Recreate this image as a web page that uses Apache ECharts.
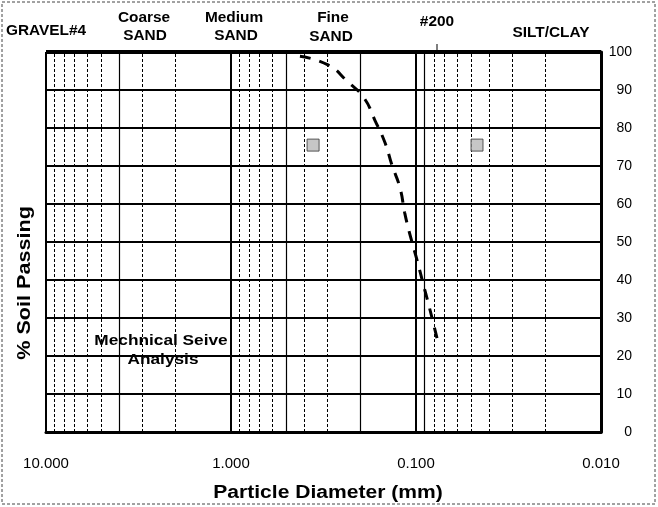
<!DOCTYPE html>
<html>
<head>
<meta charset="utf-8">
<script src="https://cdn.jsdelivr.net/npm/echarts@6/dist/echarts.min.js"></script>
<style>html,body{margin:0;padding:0;background:#fff}#c{width:658px;height:507px}</style>
</head>
<body>
<div id="c"></div>
<script>
// Data
var diameters = [0.424, 0.299, 0.233, 0.191, 0.167, 0.147, 0.135, 0.122, 0.115, 0.108, 0.0988, 0.0917, 0.0851, 0.0789, 0.077];
var percentPassing = [98.9, 96.6, 92.1, 87.9, 82.1, 76.1, 70.3, 64.2, 57.6, 52.1, 45.3, 39.2, 33.2, 26.8, 24.7];
var markerDiameters = [0.36, 0.0468];
var markerPercent = [75.5, 75.5];
var minorSolidLines = [4, 0.5, 0.2, 0.09];
var minorDashedLines = [9, 8, 7, 6, 5, 3, 2, 0.9, 0.8, 0.7, 0.6, 0.4, 0.3, 0.08, 0.07, 0.06, 0.05, 0.04, 0.03, 0.02];
var yTicks = [0, 10, 20, 30, 40, 50, 60, 70, 80, 90, 100];

var FONT = '"Liberation Sans", Arial, sans-serif';
var chart = echarts.init(document.getElementById('c'));

var markData = [];
minorDashedLines.forEach(function (v) {
  markData.push({xAxis: v, lineStyle: {type: [3, 2], width: 1, color: '#000'}});
});
minorSolidLines.forEach(function (v) {
  markData.push({xAxis: v, lineStyle: {type: 'solid', width: 1.2, color: '#000'}});
});

var curve = diameters.map(function (d, i) { return [d, percentPassing[i]]; });
var markers = markerDiameters.map(function (d, i) { return [d, markerPercent[i]]; });

function txt(x, y, t, size, rot, sx) {
  return {type: 'text', x: x, y: y, rotation: rot || 0, scaleX: sx || 1.1,
    style: {text: t, font: 'bold ' + (size || 14) + 'px ' + FONT, fill: '#000', align: 'center', verticalAlign: 'middle'}};
}

chart.setOption({
  animation: false,
  grid: {left: 46, right: 57, top: 52, bottom: 75},
  xAxis: {
    type: 'log', logBase: 10, min: 0.01, max: 10, inverse: true,
    axisLine: {show: true, lineStyle: {color: '#000', width: 3}},
    axisTick: {show: false},
    axisLabel: {
      color: '#000', fontSize: 15, fontFamily: FONT, margin: 24,
      formatter: function (v) { return Number(v).toFixed(3); }
    },
    splitLine: {show: true, lineStyle: {color: '#000', width: 2}}
  },
  yAxis: {
    type: 'value', position: 'right', min: 0, max: 100, interval: 10,
    axisLine: {show: true, lineStyle: {color: '#000', width: 3}},
    axisTick: {show: false},
    axisLabel: {color: '#000', fontSize: 14, fontFamily: FONT, align: 'right', margin: 31,
      formatter: function (v) { return yTicks.indexOf(v) >= 0 ? String(v) : ''; }},
    splitLine: {show: true, lineStyle: {color: '#000', width: 2}}
  },
  graphic: [
    {type: 'rect', shape: {x: 2, y: 2, width: 653, height: 502}, style: {fill: 'none', stroke: '#444', lineWidth: 1, lineDash: [3, 2]}, silent: true},
    {type: 'rect', shape: {x: 46, y: 50, width: 555, height: 4}, style: {fill: '#000'}, silent: true},
    txt(46, 31, 'GRAVEL#4'),
    txt(144, 18, 'Coarse'),
    txt(145, 36, 'SAND'),
    txt(234, 18, 'Medium'),
    txt(236, 36, 'SAND'),
    txt(333, 18, 'Fine'),
    txt(331, 37, 'SAND'),
    txt(437, 22, '#200'),
    txt(551, 33, 'SILT/CLAY'),
    {type: 'rect', shape: {x: 436.5, y: 44, width: 1, height: 8}, style: {fill: '#000'}, silent: true},
    txt(161, 341, 'Mechnical Seive', 15, 0, 1.15),
    txt(163, 360, 'Analysis', 15, 0, 1.15),
    txt(25, 283, '% Soil Passing', 18, Math.PI / 2, 1.2),
    txt(328, 493, 'Particle Diameter (mm)', 18, 0, 1.17)
  ],
  series: [
    {
      type: 'line', data: [], silent: true,
      markLine: {silent: true, symbol: ['none', 'none'], label: {show: false}, data: markData, animation: false}
    },
    {
      type: 'line', data: curve, smooth: true, showSymbol: false, symbol: 'none',
      lineStyle: {color: '#000', width: 3, type: [11, 9]}, z: 5
    },
    {
      type: 'scatter', data: markers, symbol: 'rect', symbolSize: 12,
      itemStyle: {color: '#b8b8b8', borderColor: '#333', borderWidth: 1}, z: 6
    }
  ]
});
</script>
</body>
</html>
